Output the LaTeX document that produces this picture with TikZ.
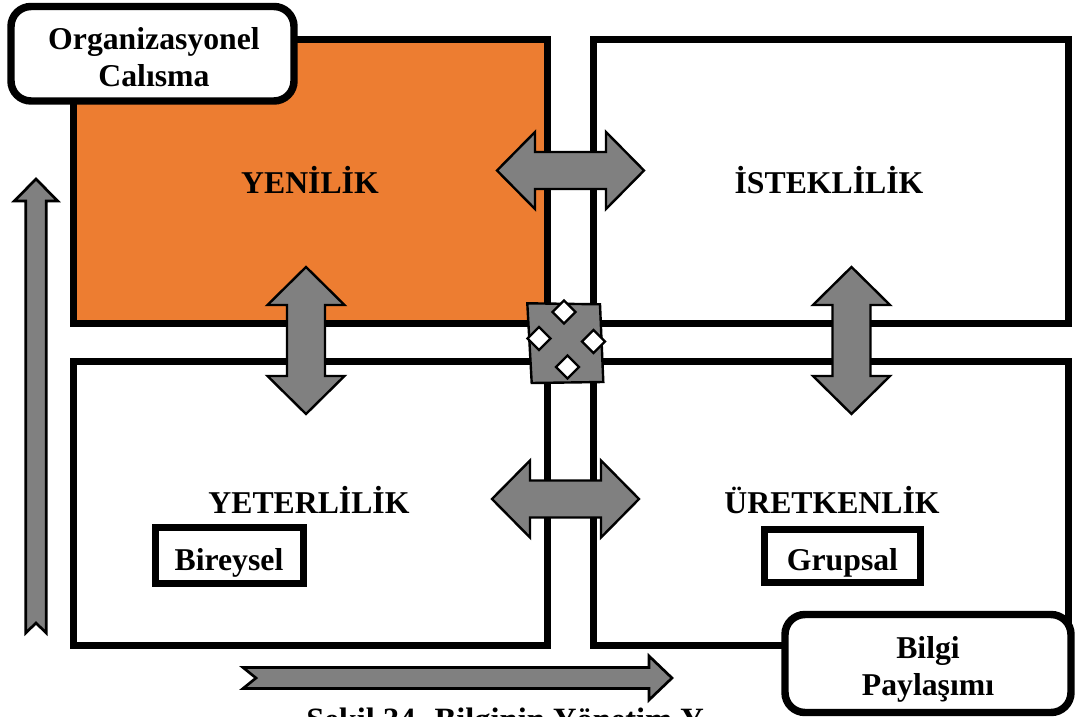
\documentclass[tikz,border=0pt]{standalone}
\usepackage{fontspec}
\setmainfont{Liberation Serif}
\definecolor{boxorange}{HTML}{ED7D31}
\definecolor{arrowgray}{HTML}{808080}
\newcommand{\hdblarrow}[2]{%
  \draw[garrow] (#1-73.5,#2) -- ++(38,-38.5) -- ++(0,20) -- ++(71,0) -- ++(0,-20)
    -- ++(38,38.5) -- ++(-38,38.5) -- ++(0,-20) -- ++(-71,0) -- ++(0,20) -- cycle;}
\newcommand{\vdblarrow}[2]{%
  \draw[garrow] (#1,#2-73.5) -- ++(38.5,38) -- ++(-19.5,0) -- ++(0,71) -- ++(19.5,0)
    -- ++(-38.5,38) -- ++(-38.5,-38) -- ++(19.5,0) -- ++(0,-71) -- ++(-19.5,0) -- cycle;}
\newcommand{\wdiamond}[2]{%
  \draw[diam] (#1,#2-11.5) -- (#1+11.5,#2) -- (#1,#2+11.5) -- (#1-11.5,#2) -- cycle;}
\begin{document}
\begin{tikzpicture}[x=0.75pt,y=-0.75pt,
  quad/.style={draw=black, line width=5.25pt, line join=miter},
  lbl/.style={font=\fontsize{23.8}{28}\selectfont\bfseries, anchor=base, inner sep=0pt},
  garrow/.style={fill=arrowgray, draw=black, line width=1.8pt, line join=miter},
  diam/.style={fill=white, draw=black, line width=1.8pt, line join=miter},
  tagbox/.style={draw=black, line width=5.6pt, fill=white, rounded corners=15pt},
  smallbox/.style={draw=black, line width=5.25pt, fill=white},
]
\useasboundingbox (0,0) rectangle (1079,717);
\clip (0,0) rectangle (1079,717);
\fill[white] (0,0) rectangle (1079,717);

% quadrant boxes
\draw[quad, fill=boxorange] (73,39.5) rectangle (547,323);
\draw[quad, fill=white] (593.5,39.5) rectangle (1068,323);
\draw[quad, fill=white] (73,361) rectangle (547,645);
\draw[quad, fill=white] (593.5,361) rectangle (1068,645);

% quadrant titles
\node[lbl] (yenilik) at (310,193) {YENİLİK};
\node[lbl] (isteklilik) at (829,193) {İSTEKLİLİK};
\node[lbl] (yeterlilik) at (309,513) {YETERLİLİK};
\node[lbl] (uretkenlik) at (832,513) {ÜRETKENLİK};

% small boxes
\draw[smallbox] (155,527) rectangle (303,583.5);
\node[lbl] (bireysel) at (229,570) {Bireysel};
\draw[smallbox] (764.5,529) rectangle (920.5,582.5);
\node[lbl] (grupsal) at (842.5,570) {Grupsal};

% double arrows
\hdblarrow{570.5}{170.5}
\hdblarrow{565.5}{499}
\vdblarrow{306}{340.5}
\vdblarrow{851.5}{340.5}

% centre cross
\draw[garrow] (527.3,303.3) -- (600,304.3) -- (603.3,382) -- (531.7,383) -- cycle;
\wdiamond{564}{312}
\wdiamond{539}{338.5}
\wdiamond{593.5}{341.5}
\wdiamond{567.5}{367}

% axis arrows
\draw[garrow, line width=2pt] (36,179) -- (57.7,201) -- (46.3,201) -- (46.3,633) -- (36,623)
  -- (25.7,633) -- (25.7,201) -- (14.3,201) -- cycle;
\draw[garrow, line width=2pt] (672,678) -- (649,700) -- (649,688.5) -- (243,688.5) -- (256,678)
  -- (243,667.5) -- (649,667.5) -- (649,656) -- cycle;

% caption (cut by the page edge, as in the reference)
\node[font=\fontsize{24.4}{28}\selectfont\bfseries, anchor=base west, inner sep=0pt] (caption)
  at (306,730) {Şekil 34. Bilginin Yönetim Y};

% corner labels
\draw[tagbox] (11,6.5) rectangle (294,101);
\node[lbl] (org1) at (154,50) {Organizasyonel};
\node[lbl] (org2) at (154,87) {Calısma};
\draw[tagbox] (785,614.5) rectangle (1071,712.5);
\node[lbl] (bilgi1) at (928,658) {Bilgi};
\node[lbl] (bilgi2) at (928,695) {Paylaşımı};
\end{tikzpicture}
\end{document}
